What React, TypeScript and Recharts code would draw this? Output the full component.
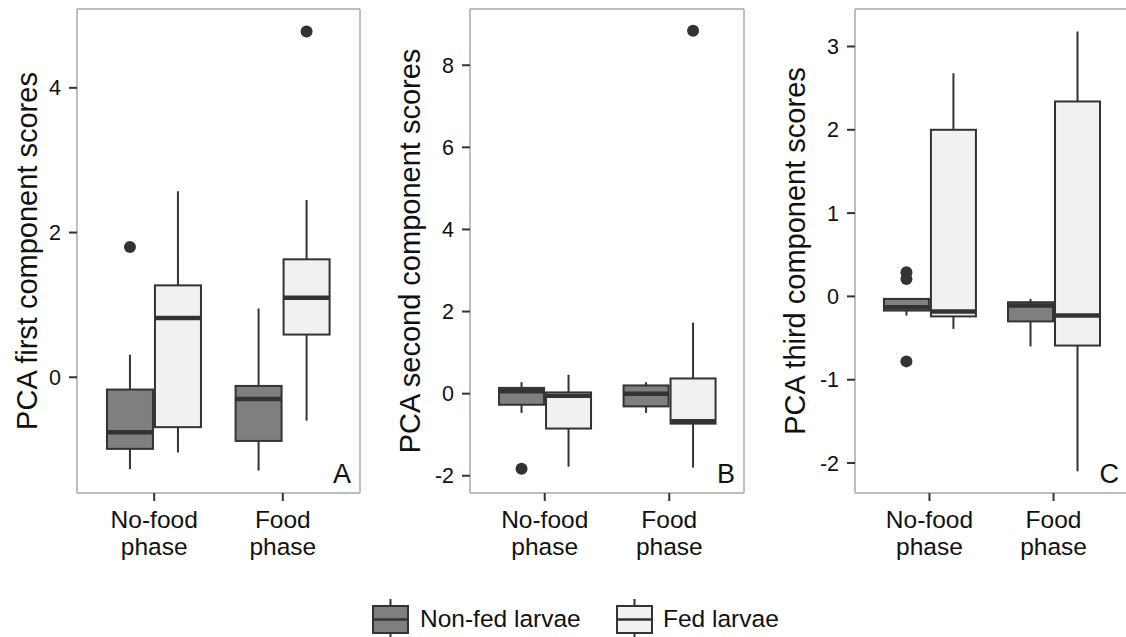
import React from 'react';
import { ComposedChart, Bar, XAxis, YAxis, CartesianGrid } from 'recharts';

const phases = ['No-food phase', 'Food phase'];
const groups = ['Non-fed larvae', 'Fed larvae'];

// each box: [lower whisker, Q1, median, Q3, upper whisker], one per phase
const firstNonFed = [[-1.27, -0.99, -0.76, -0.17, 0.31], [-1.29, -0.88, -0.30, -0.12, 0.95]];
const firstFed = [[-1.04, -0.69, 0.82, 1.27, 2.57], [-0.60, 0.59, 1.10, 1.63, 2.45]];
const firstNonFedOut = [[1.80], []];
const firstFedOut = [[], [4.78]];

const secondNonFed = [[-0.47, -0.27, 0.06, 0.14, 0.28], [-0.47, -0.31, 0.0, 0.20, 0.28]];
const secondFed = [[-1.78, -0.85, -0.05, 0.03, 0.46], [-1.80, -0.73, -0.67, 0.37, 1.73]];
const secondNonFedOut = [[-1.83], []];
const secondFedOut = [[], [8.84]];

const thirdNonFed = [[-0.23, -0.17, -0.13, -0.03, -0.03], [-0.60, -0.30, -0.11, -0.07, -0.03]];
const thirdFed = [[-0.39, -0.24, -0.18, 2.0, 2.68], [-2.10, -0.59, -0.23, 2.34, 3.18]];
const thirdNonFedOut = [[0.29, 0.21, -0.78], []];
const thirdFedOut = [[], []];

const firstTicks = [0, 2, 4];
const secondTicks = [-2, 0, 2, 4, 6, 8];
const thirdTicks = [-2, -1, 0, 1, 2, 3];

const FONT = "'Liberation Sans', Arial, Helvetica, sans-serif";
const DARK = '#333333';
const FRAME = '#a9a9a9';
const NONFED_FILL = '#7f7f7f';
const FED_FILL = '#f1f1f1';

const buildRows = (nf: number[][], f: number[][], nfOut: number[][], fOut: number[][]) =>
  phases.map((phase, i) => ({
    phase,
    nf: [nf[i][0], nf[i][4]],
    f: [f[i][0], f[i][4]],
    nfStats: nf[i],
    fStats: f[i],
    nfOut: nfOut[i],
    fOut: fOut[i],
  }));

const makeBox = (statsKey: string, outKey: string, fill: string) => (props: any) => {
  const { x, y, width, height, payload } = props;
  const [low, q1, med, q3, high] = payload[statsKey];
  const top = Math.min(y, y + height);
  const bottom = Math.max(y, y + height);
  const k = (bottom - top) / (high - low);
  const py = (v: number) => top + (high - v) * k;
  const cx = x + width / 2;
  return (
    <g>
      <line x1={cx} x2={cx} y1={py(high)} y2={py(q3)} stroke={DARK} strokeWidth={2} />
      <line x1={cx} x2={cx} y1={py(q1)} y2={py(low)} stroke={DARK} strokeWidth={2} />
      <rect x={x + 1} y={py(q3)} width={width - 2} height={py(q1) - py(q3)} fill={fill} stroke={DARK} strokeWidth={2} />
      <line x1={x + 1} x2={x + width - 1} y1={py(med)} y2={py(med)} stroke={DARK} strokeWidth={4.5} />
      {payload[outKey].map((v: number, j: number) => (
        <circle key={j} cx={cx} cy={py(v)} r={6} fill={DARK} />
      ))}
    </g>
  );
};

const PhaseTick = (props: any) => {
  const { x, y, payload } = props;
  const [a, b] = String(payload.value).split(' ');
  return (
    <text x={x} y={y} textAnchor="middle" fontSize={24.5} fill="#111" fontFamily={FONT}>
      <tspan x={x} dy={25}>{a}</tspan>
      <tspan x={x} dy={27}>{b}</tspan>
    </text>
  );
};

const panels = [
  { title: 'PCA first component scores', letter: 'A', left: 0, width: 370, right: 10, axisWidth: 77, titleX: 36.5,
    domain: [-1.6, 5.09], ticks: firstTicks, rows: buildRows(firstNonFed, firstFed, firstNonFedOut, firstFedOut) },
  { title: 'PCA second component scores', letter: 'B', left: 380, width: 374, right: 10, axisWidth: 90, titleX: 40,
    domain: [-2.42, 9.37], ticks: secondTicks, rows: buildRows(secondNonFed, secondFed, secondNonFedOut, secondFedOut) },
  { title: 'PCA third component scores', letter: 'C', left: 760, width: 368, right: 0, axisWidth: 95, titleX: 45,
    domain: [-2.36, 3.45], ticks: thirdTicks, rows: buildRows(thirdNonFed, thirdFed, thirdNonFedOut, thirdFedOut) },
];

// panel frame: grid lines only at the four edges of the plot area
const frameRows = ({ offset }: any) => [offset.top, offset.top + offset.height];
const frameCols = ({ offset }: any) => [offset.left, offset.left + offset.width];

const Panel = ({ cfg }: { cfg: any }) => {
  const plotW = cfg.width - cfg.axisWidth - cfg.right;
  const pad = plotW * 0.0455;
  return (
    <div style={{ position: 'absolute', left: cfg.left, top: 0 }}>
      <ComposedChart
        width={cfg.width}
        height={600}
        data={cfg.rows}
        margin={{ top: 9, right: cfg.right, bottom: 0, left: 0 }}
        barCategoryGap="12.5%"
        barGap={0}
      >
        <CartesianGrid
          stroke={FRAME}
          strokeWidth={1.5}
          horizontalCoordinatesGenerator={frameRows}
          verticalCoordinatesGenerator={frameCols}
        />
        <XAxis
          dataKey="phase"
          height={107}
          padding={{ left: pad, right: pad }}
          interval={0}
          stroke={DARK}
          tickSize={8}
          tickMargin={2}
          tickLine={{ stroke: DARK, strokeWidth: 2 }}
          axisLine={false}
          tick={(p: any) => <PhaseTick {...p} />}
        />
        <YAxis
          type="number"
          domain={cfg.domain}
          allowDataOverflow
          ticks={cfg.ticks}
          interval={0}
          width={cfg.axisWidth}
          stroke={DARK}
          tickSize={8}
          tickMargin={8}
          tickLine={{ stroke: DARK, strokeWidth: 2 }}
          axisLine={false}
          tick={{ fontSize: 21.5, fill: '#111', fontFamily: FONT }}
          label={{
            content: (p: any) => {
              const vb = p.viewBox;
              const tx = vb.x + cfg.titleX;
              const ty = vb.y + vb.height / 2;
              return (
                <g>
                  <text x={tx} y={ty} transform={`rotate(-90, ${tx}, ${ty})`} textAnchor="middle"
                    fontSize={29} fill="#111" fontFamily={FONT}>
                    {cfg.title}
                  </text>
                  <text x={vb.x + vb.width + plotW - 9} y={vb.y + vb.height - 10} textAnchor="end"
                    fontSize={27} fill="#111" fontFamily={FONT}>
                    {cfg.letter}
                  </text>
                </g>
              );
            },
          }}
        />
        <Bar dataKey="nf" name={groups[0]} isAnimationActive={false} shape={makeBox('nfStats', 'nfOut', NONFED_FILL)} />
        <Bar dataKey="f" name={groups[1]} isAnimationActive={false} shape={makeBox('fStats', 'fOut', FED_FILL)} />
      </ComposedChart>
    </div>
  );
};

const legendKeys = [
  { label: groups[0], fill: NONFED_FILL, x: 373, tx: 420 },
  { label: groups[1], fill: FED_FILL, x: 617, tx: 663 },
];

export default function App() {
  return (
    <div style={{ position: 'absolute', left: 0, top: 0, width: 1126, height: 637, overflow: 'hidden', background: '#fff', fontFamily: FONT }}>
      {panels.map((cfg) => (
        <Panel key={cfg.letter} cfg={cfg} />
      ))}
      <svg width={1126} height={637} style={{ position: 'absolute', left: 0, top: 0, pointerEvents: 'none' }}>
        {legendKeys.map((k) => (
          <g key={k.label}>
            <line x1={k.x + 17.5} x2={k.x + 17.5} y1={599} y2={642} stroke={DARK} strokeWidth={2} />
            <rect x={k.x} y={606} width={35} height={27} fill={k.fill} stroke={DARK} strokeWidth={2} />
            <line x1={k.x} x2={k.x + 35} y1={619.5} y2={619.5} stroke={DARK} strokeWidth={2.5} />
            <text x={k.tx} y={627} fontSize={24.5} fill="#111" fontFamily={FONT}>{k.label}</text>
          </g>
        ))}
      </svg>
    </div>
  );
}
